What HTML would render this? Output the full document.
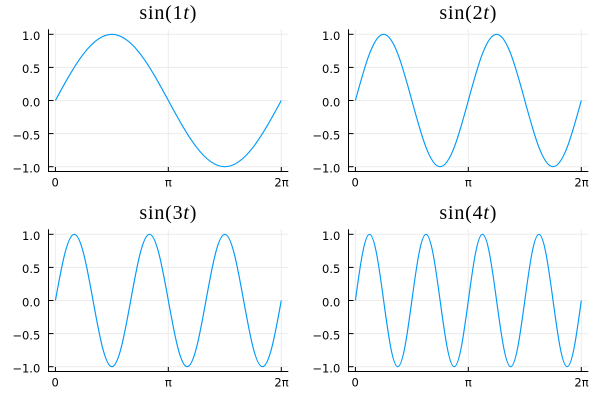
<!DOCTYPE html>
<html><head><meta charset="utf-8">
<style>
html,body{margin:0;padding:0;background:#fff;}
svg{display:block;}
.tl{font-family:"DejaVu Sans","Liberation Sans",sans-serif;font-size:11.5px;fill:#000;}
.tt{font-family:"Liberation Serif",serif;font-size:20px;fill:#000;letter-spacing:0.8px;}
.g{stroke:#ececec;stroke-width:1;fill:none;}
.ax{stroke:#000;stroke-width:1;fill:none;}
.s{stroke:#009afa;stroke-width:1.15;fill:none;stroke-linejoin:round;}
</style></head>
<body>
<svg width="600" height="400" viewBox="0 0 600 400" xmlns="http://www.w3.org/2000/svg">
<defs>
<g id="frame">
<g class="g">
<line x1="55.4" y1="29.3" x2="55.4" y2="171"/>
<line x1="168.3" y1="29.3" x2="168.3" y2="171"/>
<line x1="281.3" y1="29.3" x2="281.3" y2="171"/>
<line x1="48.3" y1="34.3" x2="288.3" y2="34.3"/>
<line x1="48.3" y1="67.4" x2="288.3" y2="67.4"/>
<line x1="48.3" y1="100.5" x2="288.3" y2="100.5"/>
<line x1="48.3" y1="133.6" x2="288.3" y2="133.6"/>
<line x1="48.3" y1="166.7" x2="288.3" y2="166.7"/>
</g>
<g class="ax">
<line x1="48.5" y1="29.3" x2="48.5" y2="171.5"/>
<line x1="48" y1="171.5" x2="288.3" y2="171.5"/>
<line x1="48.5" y1="34.3" x2="53.5" y2="34.3"/>
<line x1="48.5" y1="67.4" x2="53.5" y2="67.4"/>
<line x1="48.5" y1="100.5" x2="53.5" y2="100.5"/>
<line x1="48.5" y1="133.6" x2="53.5" y2="133.6"/>
<line x1="48.5" y1="166.7" x2="53.5" y2="166.7"/>
<line x1="55.4" y1="171.5" x2="55.4" y2="167"/>
<line x1="168.3" y1="171.5" x2="168.3" y2="167"/>
<line x1="281.3" y1="171.5" x2="281.3" y2="167"/>
</g>
<g class="tl" text-anchor="end">
<text x="40.3" y="40.1">1.0</text>
<text x="40.3" y="73.2">0.5</text>
<text x="40.3" y="106.3">0.0</text>
<text x="40.3" y="139.4">−0.5</text>
<text x="40.3" y="172.5">−1.0</text>
</g>
<g class="tl" text-anchor="middle">
<text x="55.2" y="186.5">0</text>
<text x="168.3" y="186.5">π</text>
<text x="281.5" y="186.5">2π</text>
</g>
</g>
</defs>

<!-- Panel 1 -->
<g>
<use href="#frame"/>
<text class="tt" x="168.3" y="19" text-anchor="middle">sin(1<tspan font-style="italic">t</tspan>)</text>
<path class="s" d="M55.4,100.5
c18.417,-33.91 36.033,-66.2 56.47,-66.2 c20.437,0 38.053,32.29 56.47,66.2 c18.417,33.91 36.033,66.2 56.47,66.2 c20.437,0 38.053,-32.29 56.47,-66.2"/>
</g>

<!-- Panel 2 -->
<g transform="translate(300,0)">
<use href="#frame"/>
<text class="tt" x="168.3" y="19" text-anchor="middle">sin(2<tspan font-style="italic">t</tspan>)</text>
<path class="s" d="M55.4,100.5
c9.2086,-33.91 18.016,-66.2 28.235,-66.2 c10.219,0 19.026,32.29 28.235,66.2 c9.2086,33.91 18.016,66.2 28.235,66.2 c10.219,0 19.026,-32.29 28.235,-66.2
c9.2086,-33.91 18.016,-66.2 28.235,-66.2 c10.219,0 19.026,32.29 28.235,66.2 c9.2086,33.91 18.016,66.2 28.235,66.2 c10.219,0 19.026,-32.29 28.235,-66.2"/>
</g>

<!-- Panel 3 -->
<g transform="translate(0,200)">
<use href="#frame"/>
<text class="tt" x="168.3" y="19" text-anchor="middle">sin(3<tspan font-style="italic">t</tspan>)</text>
<path class="s" d="M55.4,100.5
c6.139,-33.91 12.011,-66.2 18.823,-66.2 c6.812,0 12.684,32.29 18.823,66.2 c6.139,33.91 12.011,66.2 18.823,66.2 c6.812,0 12.684,-32.29 18.823,-66.2
c6.139,-33.91 12.011,-66.2 18.823,-66.2 c6.812,0 12.684,32.29 18.823,66.2 c6.139,33.91 12.011,66.2 18.823,66.2 c6.812,0 12.684,-32.29 18.823,-66.2
c6.139,-33.91 12.011,-66.2 18.823,-66.2 c6.812,0 12.684,32.29 18.823,66.2 c6.139,33.91 12.011,66.2 18.823,66.2 c6.812,0 12.684,-32.29 18.823,-66.2"/>
</g>

<!-- Panel 4 -->
<g transform="translate(300,200)">
<use href="#frame"/>
<text class="tt" x="168.3" y="19" text-anchor="middle">sin(4<tspan font-style="italic">t</tspan>)</text>
<path class="s" d="M55.4,100.5
c4.6043,-33.91 9.008,-66.2 14.1175,-66.2 c5.1095,0 9.513,32.29 14.1175,66.2 c4.6043,33.91 9.008,66.2 14.1175,66.2 c5.1095,0 9.513,-32.29 14.1175,-66.2
c4.6043,-33.91 9.008,-66.2 14.1175,-66.2 c5.1095,0 9.513,32.29 14.1175,66.2 c4.6043,33.91 9.008,66.2 14.1175,66.2 c5.1095,0 9.513,-32.29 14.1175,-66.2
c4.6043,-33.91 9.008,-66.2 14.1175,-66.2 c5.1095,0 9.513,32.29 14.1175,66.2 c4.6043,33.91 9.008,66.2 14.1175,66.2 c5.1095,0 9.513,-32.29 14.1175,-66.2
c4.6043,-33.91 9.008,-66.2 14.1175,-66.2 c5.1095,0 9.513,32.29 14.1175,66.2 c4.6043,33.91 9.008,66.2 14.1175,66.2 c5.1095,0 9.513,-32.29 14.1175,-66.2"/>
</g>
</svg>
</body></html>
